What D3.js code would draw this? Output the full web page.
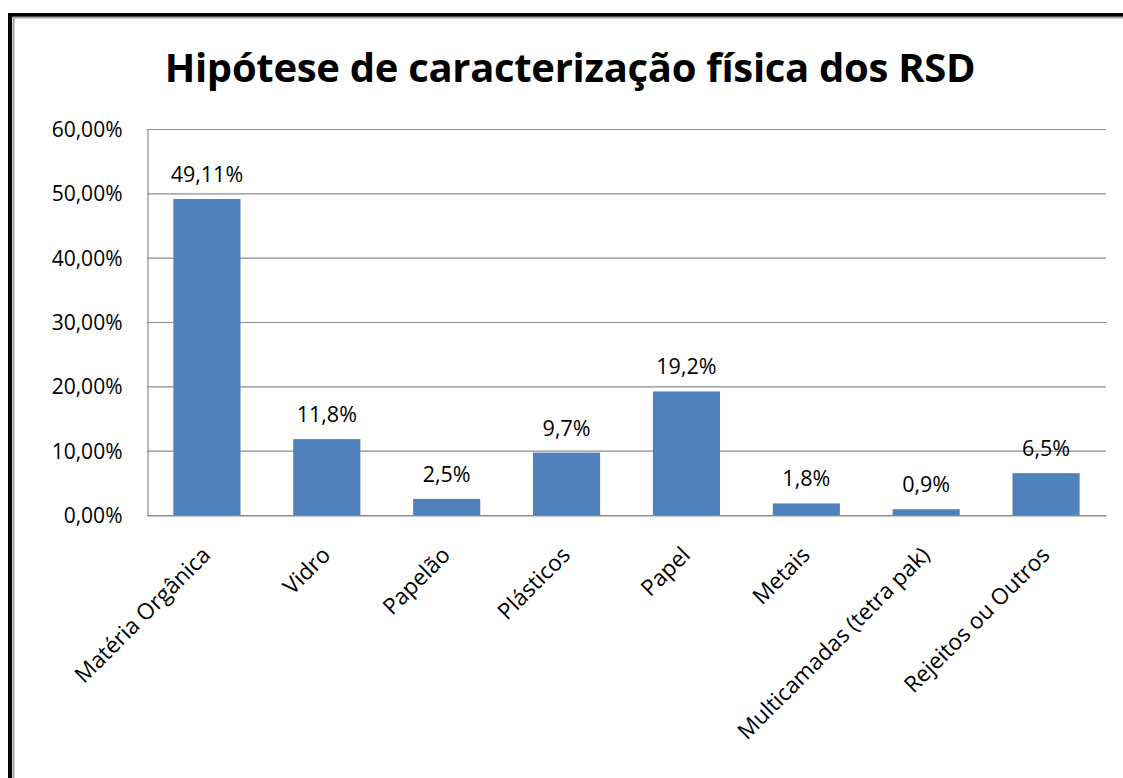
<!DOCTYPE html>
<html>
<head>
<meta charset="utf-8">
<script src="https://cdn.jsdelivr.net/npm/d3@7"></script>
<style>
    body { margin: 0; background: #fff; overflow: hidden; }
    svg { display: block; }
    svg text { font-family: "Open Sans", sans-serif; fill: #000; }
</style>
</head>
<body>
<div id="viz_canvas"></div>
<script>
"use strict";

var categories = ["Matéria Orgânica", "Vidro", "Papelão", "Plásticos", "Papel", "Metais", "Multicamadas (tetra pak)", "Rejeitos ou Outros"];
var values = [49.11, 11.8, 2.5, 9.7, 19.2, 1.8, 0.9, 6.5];
var valueLabels = ["49,11%", "11,8%", "2,5%", "9,7%", "19,2%", "1,8%", "0,9%", "6,5%"];
var yTicks = [0, 10, 20, 30, 40, 50, 60];
var title = "Hipótese de caracterização física dos RSD";

var width = 1123, height = 778;
var margin = { top: 129, right: 17, bottom: 263, left: 147 };

var svg = d3.select("#viz_canvas").append("svg")
    .attr("width", width)
    .attr("height", height);

// chart frame: only top and left edges are visible in the screenshot
svg.append("path")
    .attr("d", "M10," + height + "V15H" + width)
    .attr("fill", "none").attr("stroke", "#000").attr("stroke-width", 4);
svg.append("path")
    .attr("d", "M13.5," + height + "V17.5H" + width)
    .attr("fill", "none").attr("stroke", "#a0a0a0").attr("stroke-width", 2);

svg.append("text")
    .attr("x", 570).attr("y", 82)
    .attr("text-anchor", "middle")
    .style("font-size", "40px")
    .style("font-weight", "bold")
    .style("letter-spacing", "-0.3px")
    .text(title);

var x = d3.scaleBand()
    .domain(categories)
    .range([margin.left, width - margin.right])
    .paddingInner(0.44)
    .paddingOuter(0.22);

var y = d3.scaleLinear()
    .domain([0, 60])
    .range([height - margin.bottom, margin.top]);

var chartLayer = svg.append("g");

// gridlines
chartLayer.append("g")
    .selectAll("line")
    .data(yTicks)
    .enter().append("line")
    .attr("x1", margin.left).attr("x2", width - margin.right)
    .attr("y1", d => y(d) + 0.5).attr("y2", d => y(d) + 0.5)
    .attr("stroke", "#8c8c8c").attr("stroke-width", 1.2);

// y axis
var yAxis = d3.axisLeft(y)
    .tickValues(yTicks)
    .tickSize(0)
    .tickPadding(25)
    .tickFormat(d => d.toFixed(2).replace(".", ",") + "%");

var yg = chartLayer.append("g")
    .attr("transform", "translate(" + (margin.left + 0.5) + ",0)")
    .call(yAxis);
yg.select(".domain").attr("stroke", "#8c8c8c").attr("stroke-width", 1.2);
yg.selectAll("text").style("font-size", "21px").attr("dy", "0.36em");

// bars
chartLayer.append("g")
    .selectAll("rect")
    .data(values)
    .enter().append("rect")
    .attr("x", (d, i) => x(categories[i]))
    .attr("y", d => y(d))
    .attr("width", x.bandwidth())
    .attr("height", d => y(0) - y(d))
    .attr("fill", "#4f81bd");

// value labels
chartLayer.append("g")
    .selectAll("text")
    .data(values)
    .enter().append("text")
    .attr("x", (d, i) => x(categories[i]) + x.bandwidth() / 2)
    .attr("y", d => y(d) - 17)
    .attr("text-anchor", "middle")
    .style("font-size", "21.5px")
    .text((d, i) => valueLabels[i]);

// x axis
var xAxis = d3.axisBottom(x).tickSize(0).tickPadding(0);
var xg = chartLayer.append("g")
    .attr("transform", "translate(0," + (y(0) + 0.5) + ")")
    .call(xAxis);
xg.select(".domain").attr("stroke", "#8c8c8c").attr("stroke-width", 1.2);
xg.selectAll("text")
    .attr("text-anchor", "end")
    .attr("dy", null)
    .attr("y", 0)
    .attr("transform", "translate(5,41) rotate(-45)")
    .style("font-size", "22.5px");
</script>
</body>
</html>
